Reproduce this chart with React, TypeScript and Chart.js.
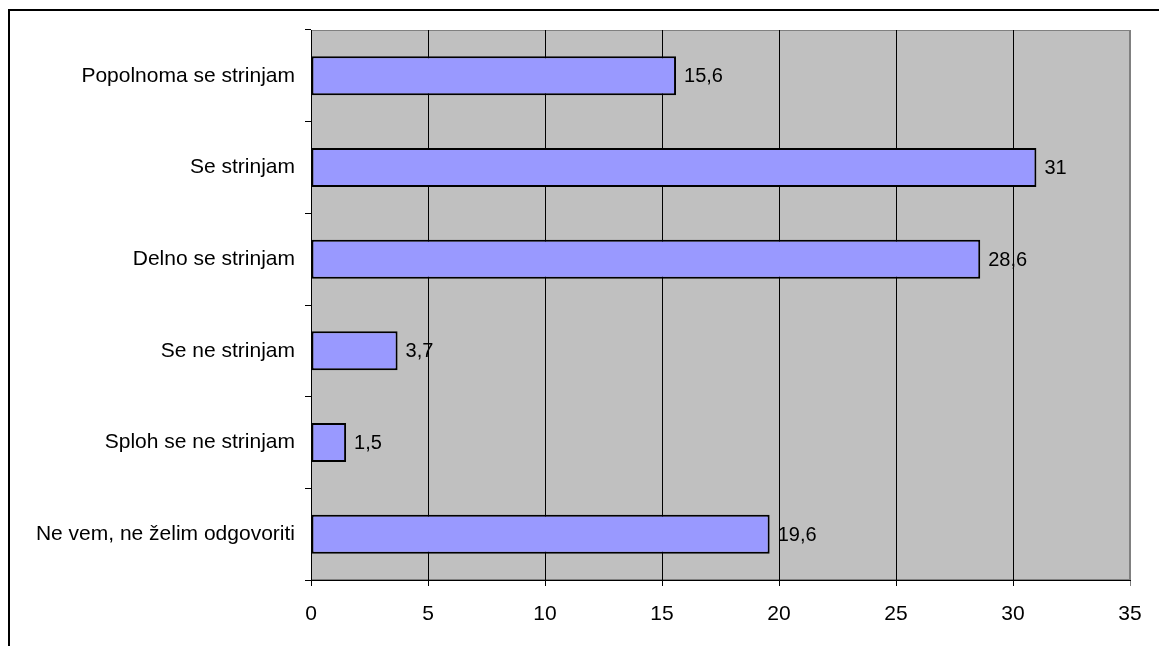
import React, { useEffect, useRef } from "react";
import { Chart, registerables } from "chart.js";

Chart.register(...registerables);

const categories = [
  "Popolnoma se strinjam",
  "Se strinjam",
  "Delno se strinjam",
  "Se ne strinjam",
  "Sploh se ne strinjam",
  "Ne vem, ne želim odgovoriti",
];
const values = [15.6, 31, 28.6, 3.7, 1.5, 19.6];
const valueLabels = ["15,6", "31", "28,6", "3,7", "1,5", "19,6"];
const xTicks = [0, 5, 10, 15, 20, 25, 30, 35];

const FONT = "Arial, 'Liberation Sans', sans-serif";

const plotBg = {
  id: "plotBg",
  beforeDraw(chart: any) {
    const { ctx, chartArea: a } = chart;
    ctx.save();
    ctx.fillStyle = "#C0C0C0";
    ctx.fillRect(a.left, a.top, a.right - a.left, a.bottom - a.top);
    ctx.strokeStyle = "#808080";
    ctx.lineWidth = 1;
    ctx.strokeRect(a.left + 0.5, a.top + 0.5, a.right - a.left - 1, a.bottom - a.top - 1);
    ctx.restore();
  },
};

const valueLabelPlugin = {
  id: "valueLabels",
  afterDatasetsDraw(chart: any) {
    const { ctx } = chart;
    const meta = chart.getDatasetMeta(0);
    ctx.save();
    ctx.font = `20px ${FONT}`;
    ctx.fillStyle = "#000";
    ctx.textAlign = "left";
    ctx.textBaseline = "middle";
    meta.data.forEach((el: any, i: number) => {
      ctx.fillText(valueLabels[i], el.x + 8, el.y + 1);
    });
    ctx.restore();
  },
};

export default function App() {
  const ref = useRef<HTMLCanvasElement>(null);
  useEffect(() => {
    if (!ref.current) return;
    const chart = new Chart(ref.current, {
      type: "bar",
      data: {
        labels: categories,
        datasets: [
          {
            data: values,
            backgroundColor: "#9999FF",
            borderColor: "#000",
            borderWidth: 2,
            borderSkipped: false,
            categoryPercentage: 1,
            barPercentage: 0.425,
          },
        ],
      },
      options: {
        indexAxis: "y",
        responsive: false,
        animation: false,
        layout: { padding: { top: 30, right: 29, left: 0, bottom: 0 } },
        plugins: { legend: { display: false }, tooltip: { enabled: false } },
        scales: {
          x: {
            min: 0,
            max: 35,
            afterBuildTicks: (s: any) => {
              s.ticks = xTicks.map((v) => ({ value: v }));
            },
            afterFit: (s: any) => {
              s.height = 66;
            },
            grid: {
              color: (c: any) => (c.tick && c.tick.value === 35 ? "#808080" : "#000"),
              lineWidth: 1,
              drawTicks: true,
              tickLength: 6,
            },
            border: { display: true, color: "#000", width: 1 },
            ticks: {
              font: { family: FONT, size: 21 },
              color: "#000",
              padding: 16,
              maxRotation: 0,
            },
          },
          y: {
            afterFit: (s: any) => {
              s.width = 311;
            },
            grid: {
              offset: true,
              drawOnChartArea: false,
              drawTicks: true,
              tickLength: 6,
              color: "#000",
            },
            border: { display: true, color: "#000", width: 1 },
            ticks: {
              font: { family: FONT, size: 21 },
              color: "#000",
              padding: 10,
            },
          },
        },
      },
      plugins: [plotBg, valueLabelPlugin],
    });
    return () => chart.destroy();
  }, []);
  return (
    <div style={{ position: "fixed", left: 0, top: 0, width: 1159, height: 646, background: "#fff" }}>
      <canvas ref={ref} width={1159} height={646} style={{ position: "absolute", left: 0, top: 0 }} />
      <div
        style={{
          position: "absolute",
          left: 8,
          top: 9,
          width: 1159 - 8,
          height: 646 - 9,
          borderLeft: "2px solid #000",
          borderTop: "2px solid #000",
          boxSizing: "border-box",
          pointerEvents: "none",
        }}
      />
    </div>
  );
}
